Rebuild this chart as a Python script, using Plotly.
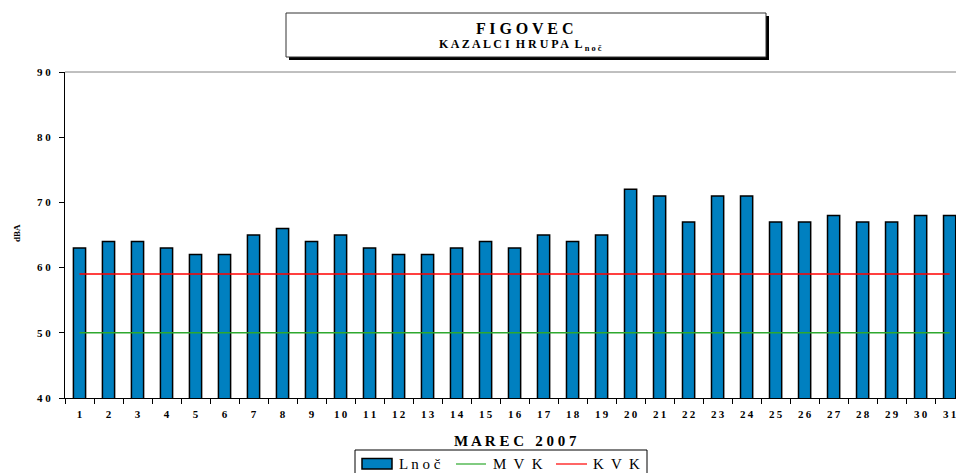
import plotly.graph_objects as go

days = [str(d) for d in range(1, 32)]
day_labels = ["\u2009".join(list(d)) for d in days]
l_noc = [63, 64, 64, 63, 62, 62, 65, 66, 64, 65, 63, 62, 62, 63, 64, 63,
         65, 64, 65, 72, 71, 67, 71, 71, 67, 67, 68, 67, 67, 68, 68]
mvk = [50] * 31
kvk = [59] * 31
y_ticks = [40, 50, 60, 70, 80, 90]
y_tick_labels = ["4 0", "5 0", "6 0", "7 0", "8 0", "9 0"]

W, H = 956, 473
ML, MR, MT, MB = 65, 0, 72, 75
PW = W - ML - MR
PH = H - MT - MB


def px(x):
    return (x - ML) / PW


def py(y):
    return (H - MB - y) / PH


FONT = "Liberation Serif"
BAR_COLOR = "#0080C0"
GREEN = "#2EA82E"
RED = "#FF0000"

fig = go.Figure()
fig.add_trace(go.Bar(x=day_labels, y=l_noc, name="L noč", width=0.42,
                     marker=dict(color=BAR_COLOR, line=dict(color="black", width=1.5)),
                     showlegend=False))
fig.add_trace(go.Scatter(x=day_labels, y=mvk, mode="lines", name="MVK",
                         line=dict(color=GREEN, width=1.5), showlegend=False))
fig.add_trace(go.Scatter(x=day_labels, y=kvk, mode="lines", name="KVK",
                         line=dict(color=RED, width=1.5), showlegend=False))

shapes = []
annotations = []

# title box with shadow
shapes.append(dict(type="rect", xref="paper", yref="paper",
                   x0=px(289), x1=px(769), y0=py(60), y1=py(16),
                   fillcolor="black", line=dict(width=0), layer="above"))
shapes.append(dict(type="rect", xref="paper", yref="paper",
                   x0=px(286), x1=px(766), y0=py(57), y1=py(13),
                   fillcolor="white", line=dict(color="#333333", width=1), layer="above"))
annotations.append(dict(xref="paper", yref="paper", x=px(525), y=py(28.5),
                        text="<b>F I G O V E C</b>", showarrow=False,
                        xanchor="center", yanchor="middle",
                        font=dict(family=FONT, size=16, color="black")))
annotations.append(dict(xref="paper", yref="paper", x=px(437), y=py(45),
                        text="<b>K A Z A L C I  H R U P A  L <sub>n o č</sub></b>",
                        showarrow=False, xanchor="left", yanchor="middle",
                        font=dict(family=FONT, size=12, color="black")))

# top border of plot area
shapes.append(dict(type="line", xref="paper", yref="paper", x0=0, x1=1, y0=1, y1=1,
                   line=dict(color="#808080", width=1)))

# axis titles
annotations.append(dict(xref="paper", yref="paper", x=px(515), y=py(441),
                        text="<b>M A R E C   2 0 0 7</b>", showarrow=False,
                        xanchor="center", yanchor="middle",
                        font=dict(family=FONT, size=15, color="black")))
annotations.append(dict(xref="paper", yref="paper", x=px(17), y=py(233),
                        text="<b>dBA</b>", showarrow=False, textangle=-90,
                        xanchor="center", yanchor="middle",
                        font=dict(family=FONT, size=9, color="black")))

# manual legend
shapes.append(dict(type="rect", xref="paper", yref="paper",
                   x0=px(355), x1=px(647), y0=py(478), y1=py(450),
                   fillcolor="white", line=dict(color="black", width=1)))
shapes.append(dict(type="rect", xref="paper", yref="paper",
                   x0=px(362), x1=px(392), y0=py(469), y1=py(458.5),
                   fillcolor=BAR_COLOR, line=dict(color="black", width=1.5)))
shapes.append(dict(type="line", xref="paper", yref="paper",
                   x0=px(456), x1=px(486), y0=py(464), y1=py(464),
                   line=dict(color=GREEN, width=1.2)))
shapes.append(dict(type="line", xref="paper", yref="paper",
                   x0=px(556), x1=px(587), y0=py(464), y1=py(464),
                   line=dict(color=RED, width=1.2)))
for txt, x0 in [("L n o č", 397), ("M  V  K", 491), ("K  V  K", 591)]:
    annotations.append(dict(xref="paper", yref="paper", x=px(x0), y=py(464),
                            text=txt, showarrow=False, xanchor="left", yanchor="middle",
                            font=dict(family=FONT, size=15, color="black")))

fig.update_layout(
    width=W, height=H,
    margin=dict(l=ML, r=MR, t=MT, b=MB, pad=0),
    paper_bgcolor="white", plot_bgcolor="white",
    bargap=0.58,
    shapes=shapes, annotations=annotations,
    showlegend=False,
    xaxis=dict(type="category", categoryorder="array", categoryarray=day_labels,
               range=[-0.5, 30.22], tickson="boundaries",
               showline=True, linecolor="black", linewidth=1,
               ticks="outside", ticklen=5, tickcolor="black", tickwidth=1,
               showgrid=False, zeroline=False,
               tickfont=dict(family=FONT, size=11, color="black", weight="bold"),
               ticklabelstandoff=6),
    yaxis=dict(range=[40, 90], tickvals=y_ticks, ticktext=y_tick_labels,
               showline=True, linecolor="black", linewidth=1,
               ticks="outside", ticklen=5, tickcolor="black", tickwidth=1,
               showgrid=False, zeroline=False,
               tickfont=dict(family=FONT, size=11, color="black", weight="bold"),
               ticklabelstandoff=6),
)

fig.write_html("out.html", config={"displayModeBar": False},
               post_script="document.body.style.margin='0px';document.body.style.overflow='hidden';")
